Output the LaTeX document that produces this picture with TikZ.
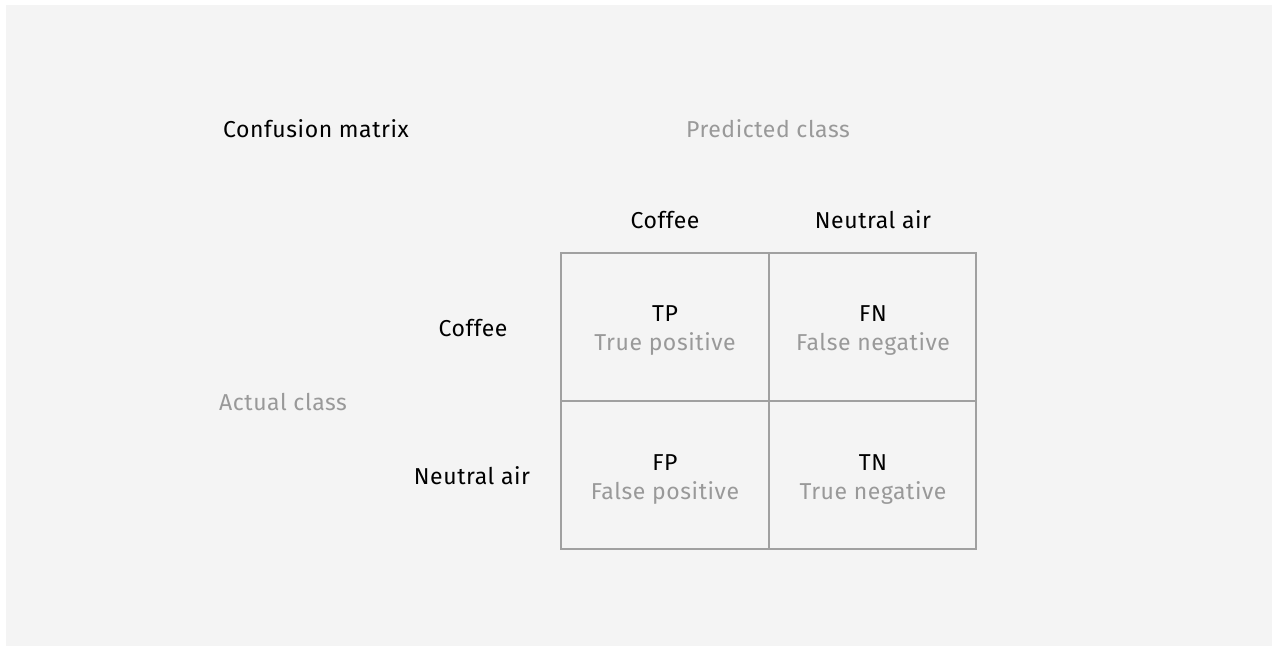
\documentclass[tikz,border=0pt]{standalone}
\usepackage{fontspec}
\setmainfont[LetterSpace=2.5]{Fira Sans}
\definecolor{bgc}{HTML}{F4F4F4}
\definecolor{linec}{HTML}{A0A0A0}
\definecolor{softc}{HTML}{999999}
\begin{document}
\begin{tikzpicture}[x=1pt,y=-1pt,
  lbl/.style={inner sep=0pt, anchor=base, font=\fontsize{23}{27}\selectfont, text=black},
  soft/.style={lbl, text=softc},
  cell/.style={draw=linec, line width=1.3pt, fill=none}]
\useasboundingbox (0,0) rectangle (1273,647);
\fill[white] (0,0) rectangle (1273,647);
\fill[bgc] (6,5) rectangle (1272,646);
% grid
\draw[cell] (561,253) rectangle (976,549);
\draw[cell] (769,253) -- (769,549);
\draw[cell] (561,401) -- (976,401);
% titles
\node[lbl] (title) at (316,138) {Confusion matrix};
\node[soft] (pred) at (768,138) {Predicted class};
\node[soft] (act) at (283,410) {Actual class};
% headers
\node[lbl] (c1) at (665,228) {Coffee};
\node[lbl] (c2) at (873,228) {Neutral air};
\node[lbl] (r1) at (473,336) {Coffee};
\node[lbl] (r2) at (472,484) {Neutral air};
% cells
\node[lbl] (tp) at (665,321) {TP};
\node[soft] (tpl) at (665,350) {True positive};
\node[lbl] (fn) at (873,321) {FN};
\node[soft] (fnl) at (873,350) {False negative};
\node[lbl] (fp) at (665,470) {FP};
\node[soft] (fpl) at (665,499) {False positive};
\node[lbl] (tn) at (873,470) {TN};
\node[soft] (tnl) at (873,499) {True negative};
\end{tikzpicture}
\end{document}
